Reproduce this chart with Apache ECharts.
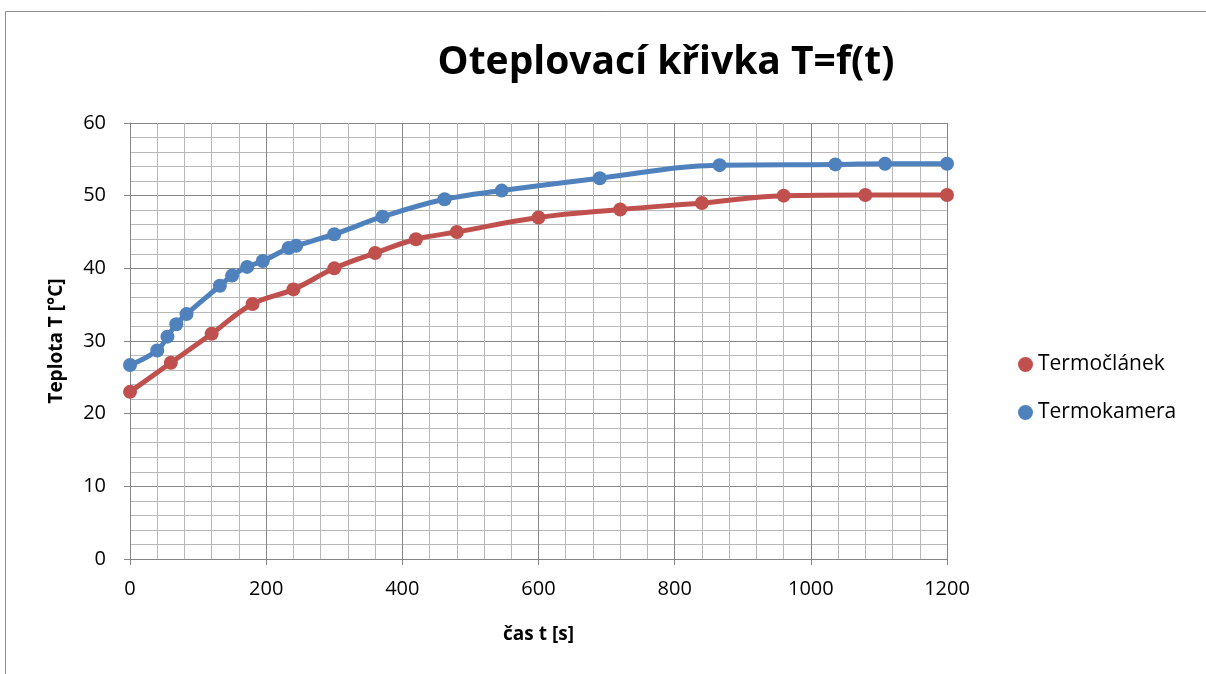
<!DOCTYPE html>
<html>
<head>
<meta charset="utf-8">
<script src="https://cdn.jsdelivr.net/npm/echarts@6/dist/echarts.min.js"></script>
<style>
html,body{margin:0;padding:0;background:#fff;}
#chart{width:1206px;height:674px;}
</style>
</head>
<body>
<div id="chart"></div>
<script>
// Data
const titleText = 'Oteplovací křivka T=f(t)';
const xName = 'čas t [s]';
const yName = 'Teplota T [°C]';
const seriesNames = ['Termočlánek', 'Termokamera'];

const termoclanekTime = [0, 60, 120, 180, 240, 300, 360, 420, 480, 600, 720, 840, 960, 1080, 1200];
const termoclanekTemp = [23.0, 27.0, 31.0, 35.1, 37.1, 40.0, 42.1, 44.0, 45.0, 47.0, 48.1, 49.0, 50.0, 50.1, 50.1];

const termokameraTime = [0, 40, 55, 68, 83, 132, 150, 172, 195, 233, 244, 300, 371, 462, 546, 690, 866, 1036, 1109, 1200];
const termokameraTemp = [26.7, 28.7, 30.6, 32.3, 33.7, 37.6, 39.0, 40.2, 41.0, 42.8, 43.1, 44.7, 47.1, 49.5, 50.7, 52.4, 54.2, 54.3, 54.4, 54.4];

const xTicks = {min: 0, max: 1200, interval: 200};
const yTicks = {min: 0, max: 60, interval: 10};

const pairs = (xs, ys) => xs.map((x, i) => [x, ys[i]]);

const FONT = 'Open Sans, Noto Sans, sans-serif';
const chart = echarts.init(document.getElementById('chart'), null, {renderer: 'canvas'});
chart.setOption({
  animation: false,
  backgroundColor: '#fff',
  title: {
    text: titleText,
    left: 661, top: 38, textAlign: 'center',
    textStyle: {fontFamily: FONT, fontSize: 39, fontWeight: 'bold', color: '#000'}
  },
  graphic: [{
    type: 'rect', silent: true, z: -10,
    shape: {x: 5.5, y: 11.5, width: 1400, height: 900},
    style: {fill: 'none', stroke: '#8c8c8c', lineWidth: 1}
  }],
  legend: {
    orient: 'vertical',
    left: 1013, top: 349,
    itemGap: 27,
    icon: 'circle',
    itemWidth: 15, itemHeight: 15,
    textStyle: {fontFamily: FONT, fontSize: 21, color: '#000', padding: [0, 0, 0, 0]},
    data: seriesNames
  },
  grid: {left: 130, right: 259, top: 123, bottom: 115, containLabel: false},
  xAxis: {
    type: 'value', min: xTicks.min, max: xTicks.max, interval: xTicks.interval,
    name: xName, nameLocation: 'middle', nameGap: 66,
    nameTextStyle: {fontFamily: FONT, fontSize: 19, fontWeight: 'bold', color: '#000'},
    axisLine: {show: true, lineStyle: {color: '#868686', width: 1}},
    axisTick: {show: true, length: 6, lineStyle: {color: '#868686'}},
    axisLabel: {fontFamily: FONT, fontSize: 20, color: '#000', margin: 20, formatter: v => String(v)},
    splitLine: {show: true, lineStyle: {color: '#868686', width: 1}},
    minorTick: {show: false, splitNumber: 5},
    minorSplitLine: {show: true, lineStyle: {color: '#b8b8b8', width: 1}}
  },
  yAxis: {
    type: 'value', min: yTicks.min, max: yTicks.max, interval: yTicks.interval,
    name: yName, nameLocation: 'middle', nameGap: 64, nameRotate: 90,
    nameTextStyle: {fontFamily: FONT, fontSize: 19, fontWeight: 'bold', color: '#000'},
    axisLine: {show: true, lineStyle: {color: '#868686', width: 1}},
    axisTick: {show: true, length: 6, lineStyle: {color: '#868686'}},
    axisLabel: {fontFamily: FONT, fontSize: 20, color: '#000', margin: 24},
    splitLine: {show: true, lineStyle: {color: '#868686', width: 1}},
    minorTick: {show: false, splitNumber: 5},
    minorSplitLine: {show: true, lineStyle: {color: '#b8b8b8', width: 1}}
  },
  series: [
    {
      name: seriesNames[0], type: 'line', smooth: 0.4,
      data: pairs(termoclanekTime, termoclanekTemp),
      symbol: 'circle', symbolSize: 14,
      lineStyle: {color: '#C0504D', width: 5},
      itemStyle: {color: '#C0504D'}
    },
    {
      name: seriesNames[1], type: 'line', smooth: 0.4,
      data: pairs(termokameraTime, termokameraTemp),
      symbol: 'circle', symbolSize: 14,
      lineStyle: {color: '#4F81BD', width: 5},
      itemStyle: {color: '#4F81BD'}
    }
  ]
});
</script>
</body>
</html>
